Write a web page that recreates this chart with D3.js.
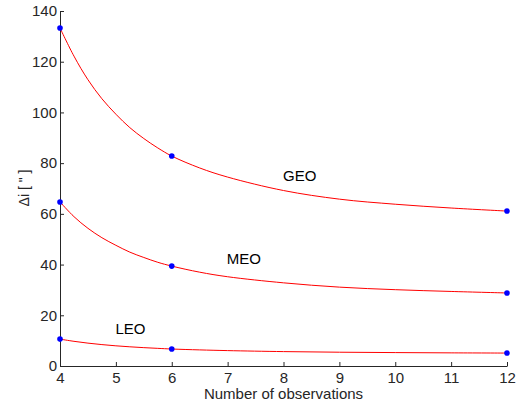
<!DOCTYPE html>
<html><head><meta charset="utf-8">
<script src="https://cdn.jsdelivr.net/npm/d3@7"></script>
<style>
body{margin:0;background:#fff;}
text{font-family:"Liberation Sans",Arial,Helvetica,sans-serif;}
</style></head>
<body><svg id="c" width="520" height="410"></svg>
<script>
// Curve samples
const curveX = [4, 4.25, 4.5, 4.75, 5, 5.25, 5.5, 5.75, 6, 6.5, 7, 8, 9, 10, 11, 12];
const geoCurve = [133.3, 122.2, 112.9, 105.4, 99.3, 94.0, 89.7, 86.0, 82.8, 78.1, 74.5, 69.2, 65.8, 63.8, 62.3, 61.1];
const meoCurve = [64.7, 58.9, 54.3, 50.6, 47.6, 44.9, 42.8, 40.9, 39.4, 37.0, 35.2, 32.8, 31.1, 30.1, 29.4, 28.8];
const leoCurve = [10.6, 9.73, 9.02, 8.44, 7.96, 7.57, 7.24, 6.96, 6.7, 6.35, 6.07, 5.68, 5.44, 5.29, 5.18, 5.1];
// Observed markers
const markerX = [4, 6, 12];
const geoPts = [133.3, 82.8, 61.1];
const meoPts = [64.7, 39.4, 28.8];
const leoPts = [10.6, 6.7, 5.1];
const seriesNames = ["GEO", "MEO", "LEO"];
const labelPos = [[8.29, 73], [7.29, 40.2], [5.26, 12.6]];
const xTicks = [4, 5, 6, 7, 8, 9, 10, 11, 12];
const yTicks = [0, 20, 40, 60, 80, 100, 120, 140];

const svg = d3.select("#c");
const x = d3.scaleLinear().domain([4, 12]).range([60, 507]);
const y = d3.scaleLinear().domain([0, 140]).range([366, 11]);
const axisCol = "#262626";

const xAxis = d3.axisBottom(x).tickValues(xTicks).tickSizeInner(-4).tickSizeOuter(0).tickPadding(6);
const gx = svg.append("g").attr("transform", "translate(0,366)").call(xAxis);
const yAxis = d3.axisLeft(y).tickValues(yTicks).tickSizeInner(-4).tickSizeOuter(0).tickPadding(3);
const gy = svg.append("g").attr("transform", "translate(60,0)").call(yAxis);
[gx, gy].forEach(g => {
  g.select(".domain").attr("stroke", axisCol).attr("stroke-width", 1);
  g.selectAll(".tick line").attr("stroke", axisCol);
  g.selectAll(".tick text").attr("fill", axisCol).style("font-size", "15px")
    .style("font-family", '"Liberation Sans",Arial,sans-serif');
});

const line = d3.line().x((d, i) => x(curveX[i])).y(d => y(d)).curve(d3.curveCatmullRom.alpha(0.5));
const curves = [geoCurve, meoCurve, leoCurve];
const pts = [geoPts, meoPts, leoPts];
curves.forEach(c => {
  svg.append("path").datum(c).attr("d", line).attr("fill", "none")
    .attr("stroke", "#ff0000").attr("stroke-width", 1);
});
pts.forEach(p => {
  svg.append("g").selectAll("circle").data(p).join("circle")
    .attr("cx", (d, i) => x(markerX[i])).attr("cy", d => y(d)).attr("r", 2.8)
    .attr("fill", "#0000ff");
});
seriesNames.forEach((n, i) => {
  svg.append("text").attr("x", x(labelPos[i][0])).attr("y", y(labelPos[i][1]))
    .attr("text-anchor", "middle").style("font-size", "15px").attr("fill", "#000").text(n);
});

svg.append("text").attr("x", (60 + 507) / 2).attr("y", 399).attr("text-anchor", "middle")
  .style("font-size", "15px").attr("fill", axisCol).text("Number of observations");
svg.append("text").attr("transform", "translate(29,188) rotate(-90)").attr("text-anchor", "middle")
  .style("font-size", "14px").attr("fill", axisCol).text('\u0394i [ " ]');
</script></body></html>
